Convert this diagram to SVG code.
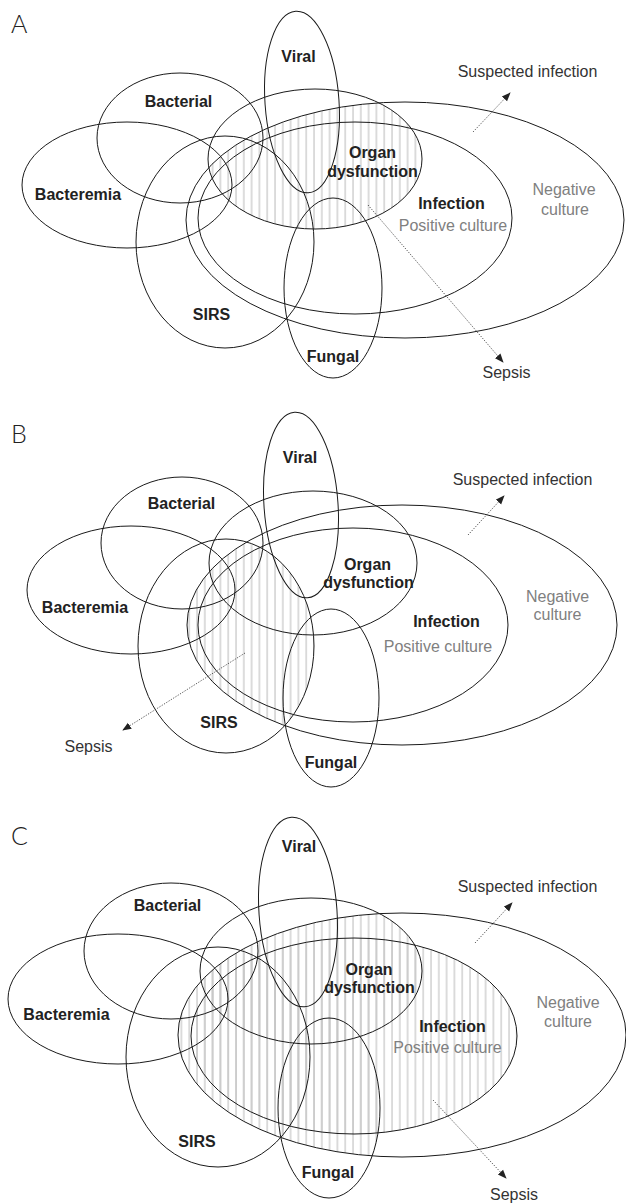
<svg xmlns="http://www.w3.org/2000/svg" width="626" height="1203" viewBox="0 0 626 1203">
<style>
.e{fill:none;stroke:#1a1a1a;stroke-width:1}
.b{font-family:"Liberation Sans",Arial,sans-serif;font-weight:bold;font-size:16px;fill:#222;text-anchor:middle}
.g{font-family:"Liberation Sans",Arial,sans-serif;font-size:16px;fill:#808080;text-anchor:middle}
.n{font-family:"Liberation Sans",Arial,sans-serif;font-size:16px;fill:#333;text-anchor:middle}
.p{font-family:Lato,"Open Sans",sans-serif;font-weight:300;font-size:25px;fill:#222}
.a{fill:none;stroke:#333;stroke-width:0.8;stroke-dasharray:1.3 1.4;marker-end:url(#ah)}
.h{fill:url(#hatch);stroke:none}
</style>
<defs>
<pattern id="hatch" patternUnits="userSpaceOnUse" width="7.8" height="20">
<line x1="2" y1="0" x2="2" y2="20" stroke="#c4c4c4" stroke-width="1.2"/>
</pattern>
<marker id="ah" viewBox="0 0 10 10" refX="9" refY="5" markerWidth="9" markerHeight="9" markerUnits="userSpaceOnUse" orient="auto">
<path d="M0,1 L10,5 L0,9 Z" fill="#222"/>
</marker>
<clipPath id="clipA"><ellipse cx="405" cy="220" rx="219" ry="118"/></clipPath>
<clipPath id="clipB"><ellipse cx="402" cy="625" rx="215" ry="120"/></clipPath>
<clipPath id="clipC"><ellipse cx="402" cy="1035" rx="224" ry="122"/></clipPath>
</defs>

<!-- Panel A -->
<g id="panelA">
<text class="p" x="11" y="33">A</text>
<g id="A-sepsis-hatch" clip-path="url(#clipA)"><ellipse class="h" cx="315" cy="159" rx="107" ry="70"/></g>
<g id="A-viral"><ellipse class="e" cx="302" cy="102" rx="37" ry="91" transform="rotate(-4 302 102)"/><text class="b" x="298.5" y="61.5">Viral</text></g>
<g id="A-bacterial"><ellipse class="e" cx="180" cy="138" rx="83" ry="65"/><text class="b" x="178.5" y="106.5">Bacterial</text></g>
<g id="A-bacteremia"><ellipse class="e" cx="127" cy="185" rx="105" ry="63"/><text class="b" x="78" y="200">Bacteremia</text></g>
<g id="A-sirs"><ellipse class="e" cx="225" cy="242" rx="89" ry="106"/><text class="b" x="211.5" y="320">SIRS</text></g>
<g id="A-organ"><ellipse class="e" cx="315" cy="159" rx="107" ry="70"/><text class="b" x="372.5" y="158">Organ</text><text class="b" x="372.5" y="176.5">dysfunction</text></g>
<g id="A-infection"><ellipse class="e" cx="355" cy="218" rx="157" ry="96"/><text class="b" x="451.5" y="208.5">Infection</text><text class="g" x="453" y="230.5">Positive culture</text></g>
<g id="A-suspected"><ellipse class="e" cx="405" cy="220" rx="219" ry="118"/><text class="g" x="564" y="195">Negative</text><text class="g" x="565" y="215">culture</text><text class="n" x="527.5" y="76.5">Suspected infection</text></g>
<g id="A-fungal"><ellipse class="e" cx="333" cy="288" rx="49" ry="90"/><text class="b" x="333" y="361.5">Fungal</text></g>
<g id="A-sepsis"><text class="n" x="506.5" y="378">Sepsis</text></g>
</g>

<!-- Panel B -->
<g id="panelB">
<text class="p" x="11" y="443">B</text>
<g id="B-sepsis-hatch" clip-path="url(#clipB)"><ellipse class="h" cx="226" cy="646" rx="88" ry="107"/></g>
<g id="B-viral"><ellipse class="e" cx="301" cy="505" rx="37" ry="93" transform="rotate(-4 301 505)"/><text class="b" x="300" y="463">Viral</text></g>
<g id="B-bacterial"><ellipse class="e" cx="182" cy="543" rx="81" ry="66"/><text class="b" x="181.5" y="509">Bacterial</text></g>
<g id="B-bacteremia"><ellipse class="e" cx="131" cy="590" rx="104" ry="64"/><text class="b" x="85" y="612.5">Bacteremia</text></g>
<g id="B-sirs"><ellipse class="e" cx="226" cy="646" rx="88" ry="107"/><text class="b" x="219" y="727.5">SIRS</text></g>
<g id="B-organ"><ellipse class="e" cx="313" cy="563" rx="104" ry="72"/><text class="b" x="367.5" y="570">Organ</text><text class="b" x="368.5" y="588">dysfunction</text></g>
<g id="B-infection"><ellipse class="e" cx="353" cy="625" rx="155" ry="97"/><text class="b" x="446.5" y="627">Infection</text><text class="g" x="438" y="652">Positive culture</text></g>
<g id="B-suspected"><ellipse class="e" cx="402" cy="625" rx="215" ry="120"/><text class="g" x="557.5" y="602">Negative</text><text class="g" x="557.5" y="620">culture</text><text class="n" x="522.5" y="485">Suspected infection</text></g>
<g id="B-fungal"><ellipse class="e" cx="331" cy="698" rx="48" ry="89"/><text class="b" x="331" y="768">Fungal</text></g>
<g id="B-sepsis"><text class="n" x="88.5" y="752">Sepsis</text></g>
</g>

<!-- Panel C -->
<g id="panelC">
<text class="p" x="11" y="845">C</text>
<g id="C-sepsis-hatch" clip-path="url(#clipC)">
<ellipse class="h" cx="218" cy="1057" rx="92" ry="110"/>
<ellipse class="h" cx="354" cy="1036" rx="163" ry="98"/>
<ellipse class="h" cx="311" cy="971" rx="111" ry="73"/>
<ellipse class="h" cx="329" cy="1108" rx="51" ry="90"/>
</g>
<g id="C-viral"><ellipse class="e" cx="298" cy="912" rx="39" ry="95" transform="rotate(-4 298 912)"/><text class="b" x="299" y="851.5">Viral</text></g>
<g id="C-bacterial"><ellipse class="e" cx="171" cy="951" rx="87" ry="68"/><text class="b" x="167.5" y="911">Bacterial</text></g>
<g id="C-bacteremia"><ellipse class="e" cx="118" cy="999" rx="110" ry="65"/><text class="b" x="66.5" y="1020">Bacteremia</text></g>
<g id="C-sirs"><ellipse class="e" cx="218" cy="1057" rx="92" ry="110"/><text class="b" x="197" y="1147">SIRS</text></g>
<g id="C-organ"><ellipse class="e" cx="311" cy="971" rx="111" ry="73"/><text class="b" x="369" y="975">Organ</text><text class="b" x="369.5" y="993">dysfunction</text></g>
<g id="C-infection"><ellipse class="e" cx="354" cy="1036" rx="163" ry="98"/><text class="b" x="452.5" y="1032">Infection</text><text class="g" x="447.5" y="1053">Positive culture</text></g>
<g id="C-suspected"><ellipse class="e" cx="402" cy="1035" rx="224" ry="122"/><text class="g" x="568" y="1008">Negative</text><text class="g" x="568" y="1027">culture</text><text class="n" x="527.5" y="892">Suspected infection</text></g>
<g id="C-fungal"><ellipse class="e" cx="329" cy="1108" rx="51" ry="90"/><text class="b" x="328" y="1178">Fungal</text></g>
<g id="C-sepsis"><text class="n" x="514" y="1200">Sepsis</text></g>
</g>

<g id="connectors">
<line class="a" x1="473" y1="132" x2="510" y2="93"/>
<line class="a" x1="368" y1="205" x2="503" y2="362"/>
<line class="a" x1="468" y1="535" x2="504" y2="496"/>
<line class="a" x1="245" y1="653" x2="123" y2="730"/>
<line class="a" x1="475" y1="943" x2="512" y2="903"/>
<line class="a" x1="433" y1="1100" x2="506" y2="1178"/>
</g>
</svg>
